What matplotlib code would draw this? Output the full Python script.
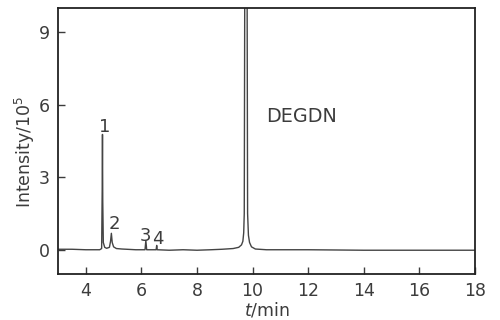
import matplotlib
matplotlib.use("Agg")
import matplotlib.pyplot as plt

# Chromatogram trace (retention time in min, intensity /1e5)
t_min = [3.0, 3.5, 4.0, 4.5, 4.57, 4.59, 4.60, 4.61, 4.63, 4.68, 4.75, 4.85, 4.89,
         4.92, 4.95, 5.0, 5.1, 5.3, 5.8, 6.13, 6.16, 6.19, 6.4, 6.53, 6.55, 6.57,
         7.0, 7.5, 8.0, 8.5, 8.9, 9.3, 9.5, 9.6, 9.65, 9.68, 9.70, 9.72, 9.80,
         9.82, 9.85, 9.89, 9.96, 10.1, 10.5, 12.0, 14.0, 16.0, 18.0]
intensity = [0.02, 0.02, 0.0, 0.0, 0.05, 2.5, 4.77, 2.0, 0.3, 0.1, 0.06, 0.1, 0.35,
             0.68, 0.3, 0.12, 0.05, 0.03, 0.0, 0.0, 0.38, 0.0, 0.0, 0.0, 0.18, 0.0,
             -0.02, 0.0, -0.02, 0.0, 0.02, 0.05, 0.1, 0.2, 0.35, 0.7, 1.5, 12.0, 12.0,
             1.5, 0.6, 0.3, 0.12, 0.03, 0.0, 0.0, -0.02, -0.02, -0.02]

peak_labels = ["1", "2", "3", "4", "DEGDN"]
label_t = [4.68, 5.04, 6.14, 6.58, 10.5]
label_y = [5.07, 1.08, 0.55, 0.45, 5.5]

x_ticks = [4, 6, 8, 10, 12, 14, 16, 18]
y_ticks = [0, 3, 6, 9]

plt.rcParams['font.family'] = ['DejaVu Sans']
plt.rcParams['mathtext.fontset'] = 'dejavusans'

txt = '#3c3c3c'
fig = plt.figure(figsize=(5.0, 3.2), dpi=100)
ax = fig.add_axes([0.116, 0.144, 0.834, 0.831])

ax.plot(t_min, intensity, color='#444444', lw=1.0)

for lab, x, y in zip(peak_labels, label_t, label_y):
    ha = 'left' if lab == 'DEGDN' else 'center'
    fs = 13.8 if lab == 'DEGDN' else 13
    ax.text(x, y, lab, ha=ha, va='center', fontsize=fs, color=txt)

ax.set_xlim(3, 18)
ax.set_ylim(-1, 10)
ax.set_xticks(x_ticks)
ax.set_yticks(y_ticks)
ax.tick_params(direction='in', length=5, width=1, labelsize=12.5, colors=txt,
               pad=6)
for s in ax.spines.values():
    s.set_linewidth(1.3)
    s.set_color('#222222')

ax.set_xlabel('$t$/min', fontsize=12.5, labelpad=0, color=txt)
ax.set_ylabel('Intensity/10$^5$', fontsize=12.5, color=txt)
ax.yaxis.set_label_coords(-0.05, 0.46)

fig.savefig('out.png', dpi=100)
